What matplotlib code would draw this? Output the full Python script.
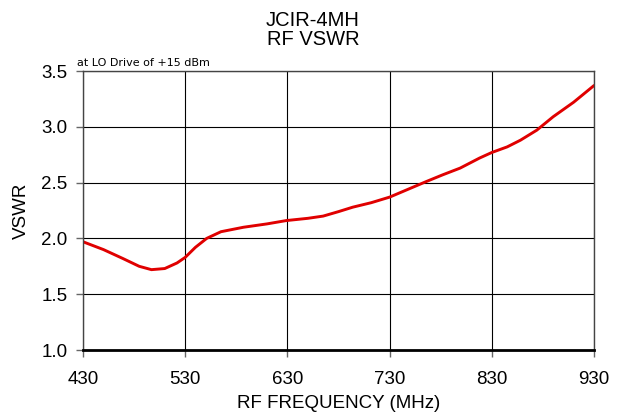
import matplotlib
matplotlib.use("Agg")
import matplotlib.pyplot as plt

plt.rcParams['font.family'] = ['Liberation Sans', 'DejaVu Sans']

freq = [430, 450, 469, 485, 497, 510, 522, 530, 540, 551, 565, 587, 610, 629, 650, 665, 680, 694,
        712, 730, 748, 766, 782, 799, 818, 830, 845, 858, 874, 890, 910, 930]
vswr = [1.97, 1.90, 1.82, 1.75, 1.72, 1.73, 1.78, 1.83, 1.92, 2.00, 2.06, 2.10, 2.13, 2.16, 2.18, 2.20, 2.24, 2.28,
        2.32, 2.37, 2.44, 2.51, 2.57, 2.63, 2.72, 2.77, 2.82, 2.88, 2.97, 3.09, 3.22, 3.37]

xticks = [430, 530, 630, 730, 830, 930]
yticks = [1.0, 1.5, 2.0, 2.5, 3.0, 3.5]

fig = plt.figure(figsize=(6.23, 4.15), dpi=100)
ax = fig.add_axes([0.1332, 0.1566, 0.8203, 0.6723])

ax.plot(freq, vswr, color='#e00000', lw=2.1, solid_capstyle='round', solid_joinstyle='round')
ax.set_xlim(430, 930)
ax.set_ylim(1.0, 3.5)
ax.set_xticks(xticks)
ax.set_yticks(yticks)
ax.set_xticklabels([str(t) for t in xticks])
ax.set_yticklabels([f"{t:.1f}" for t in yticks])
ax.grid(True, color='black', lw=0.8)
ax.set_axisbelow(True)
ax.tick_params(axis='both', labelsize=13.5, length=5, width=1, color='#666666')
ax.tick_params(axis='x', pad=10)
ax.tick_params(axis='y', pad=6)
for s in ['top', 'right', 'left']:
    ax.spines[s].set_color('#444444')
    ax.spines[s].set_linewidth(1)
ax.spines['bottom'].set_color('black')
ax.spines['bottom'].set_linewidth(2)

ax.set_xlabel('RF FREQUENCY (MHz)', fontsize=13.5, labelpad=5)
ax.set_ylabel('VSWR', fontsize=13.5, labelpad=8)
fig.text(0.5025, 0.882, 'JCIR-4MH\nRF VSWR', ha='center', va='bottom', fontsize=14.5, linespacing=1.0)
ax.text(-0.012, 1.012, 'at LO Drive of +15 dBm', transform=ax.transAxes, fontsize=8,
        family='DejaVu Sans', ha='left', va='bottom')

fig.savefig('out.png', dpi=100)
